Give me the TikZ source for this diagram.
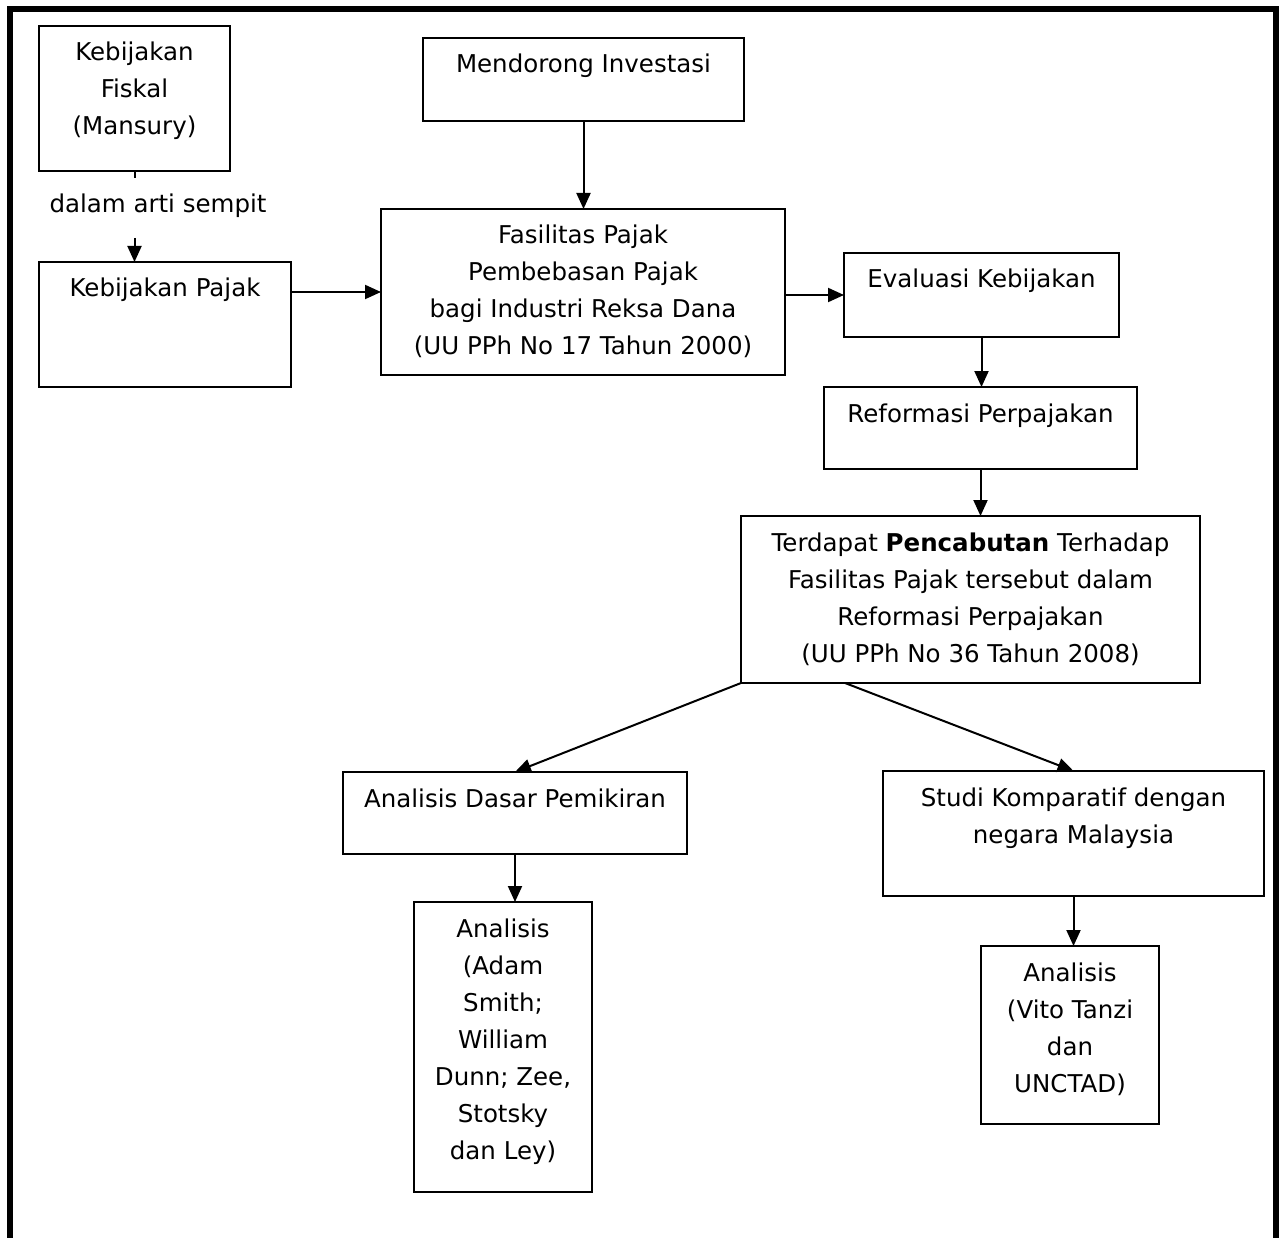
\documentclass[tikz,border=0pt]{standalone}
\usepackage{fontspec}
\setmainfont{DejaVu Sans}
\usetikzlibrary{arrows.meta}
\newcommand\bxt[3]{\parbox[c][#2pt][t]{#1pt}{\centering\rule{0pt}{35pt}#3}}
\begin{document}
\begin{tikzpicture}[x=1pt,y=-1pt,
  every node/.style={font=\fontsize{24.5pt}{37pt}\selectfont},
  bx/.style={draw,line width=2pt,inner sep=0pt,outer sep=0pt,anchor=north west},
  arr/.style={-{Triangle[length=16pt,width=14pt]},line width=2pt},
  ln/.style={line width=2pt}]
\useasboundingbox (0,0) rectangle (1279,1238);
\fill[white] (0,0) rectangle (1279,1238);
% outer frame (open at the bottom)
\draw[line width=6pt,miter limit=10] (9.5,1238) -- (9.5,9) -- (1276,9) -- (1276,1238);

\node[bx] (fiskal) at (39,26) {\bxt{191}{145}{Kebijakan\\Fiskal\\(Mansury)}};
\node[bx] (pajak) at (39,262) {\bxt{252}{125}{Kebijakan Pajak}};
\node[bx] (mendorong) at (423,38) {\bxt{321}{83}{Mendorong Investasi}};
\node[bx] (fasilitas) at (381,209) {\bxt{404}{166}{Fasilitas Pajak\\Pembebasan Pajak\\bagi Industri Reksa Dana\\(UU PPh No 17 Tahun 2000)}};
\node[bx] (evaluasi) at (844,253) {\bxt{275}{84}{Evaluasi Kebijakan}};
\node[bx] (reformasi) at (824,387) {\bxt{313}{82}{Reformasi Perpajakan}};
\node[bx] (terdapat) at (741,516) {\bxt{459}{167}{Terdapat \textbf{Pencabutan} Terhadap\\Fasilitas Pajak tersebut dalam\\Reformasi Perpajakan\\(UU PPh No 36 Tahun 2008)}};
\node[bx] (dasar) at (343,772) {\bxt{344}{82}{Analisis Dasar Pemikiran}};
\node[bx] (studi) at (883,771) {\bxt{381}{125}{Studi Komparatif dengan\\negara Malaysia}};
\node[bx] (adam) at (414,902) {\bxt{178}{290}{Analisis\\(Adam\\Smith;\\William\\Dunn; Zee,\\Stotsky\\dan Ley)}};
\node[bx] (vito) at (981,946) {\bxt{178}{178}{Analisis\\(Vito Tanzi\\dan\\UNCTAD)}};

% label between fiskal and pajak
\node[anchor=base,inner sep=0pt] (lbl) at (158,213) {dalam arti sempit};
\coordinate (stub) at ([yshift=-7pt]fiskal.south);
\coordinate (astart) at (fiskal.south |- 0,238);

% connectors
\draw[ln] (fiskal.south) -- (stub);
\draw[arr] (astart) -- (fiskal.south |- pajak.north);
\draw[arr] (pajak.east |- fasilitas.west) -- (fasilitas.west);
\draw[arr] (mendorong.south) -- (mendorong.south |- fasilitas.north);
\draw[arr] (fasilitas.east |- evaluasi.west) -- (evaluasi.west);
\draw[arr] (evaluasi.south) -- (evaluasi.south |- reformasi.north);
\draw[arr] (reformasi.south) -- (reformasi.south |- terdapat.north);
\draw[arr] (terdapat.south west) -- (dasar.north);
\draw[arr] ([xshift=104pt]terdapat.south west) -- (studi.north);
\draw[arr] (dasar.south) -- (dasar.south |- adam.north);
\draw[arr] (studi.south) -- (studi.south |- vito.north);
\end{tikzpicture}
\end{document}
